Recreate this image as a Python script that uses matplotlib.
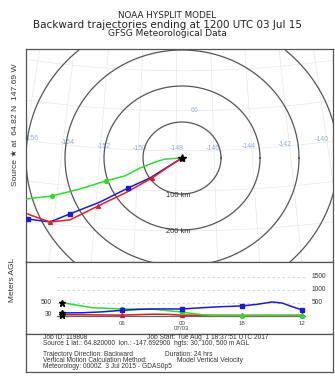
import numpy as np
import matplotlib
matplotlib.use("Agg")
import matplotlib.pyplot as plt

plt.rcParams['font.family'] = ['Liberation Sans', 'DejaVu Sans']

# ---------------- data ----------------
SRC_LAT, SRC_LON = 64.82, -147.69

# trajectories (lat, lon), points from source backwards
red_lat = [64.82, 64.59, 64.31, 63.91, 63.55, 63.15, 63.05, 63.12, 63.20, 63.27]
red_lon = [-147.69, -148.42, -149.23, -150.58, -151.89, -153.21, -154.17, -154.79, -155.45, -156.22]
red_mark = [2, 4, 6]

blue_lat = [64.82, 64.52, 64.31, 64.04, 63.65, 63.30, 63.05, 63.06, 63.03]
blue_lon = [-147.69, -148.68, -149.34, -150.44, -151.81, -153.24, -154.17, -155.27, -156.15]
blue_mark = [3, 5, 7]

green_lat = [64.82, 64.79, 64.71, 64.55, 64.34, 64.19, 63.94, 63.70, 63.55, 63.45]
green_lon = [-147.69, -148.58, -149.10, -149.87, -150.63, -151.58, -152.87, -154.24, -155.51, -156.54]
green_mark = [5, 7]

lon_labels = [-156, -154, -152, -150, -148, -146, -144, -142, -140]
lat_label = 66
ring_km = [100, 200, 300, 400]
ring_labels = ["100 km", "200 km"]

# height panel (hours back from 1200 UTC 03 Jul)
red_hr = [0, 3, 6, 9, 10.5, 12, 15, 18, 24]
red_h = [30, 25, 15, 50, 45, 15, 10, 5, 10]
blue_hr = [0, 2, 4, 6, 8, 10, 12, 14, 16, 18, 19.5, 21, 22, 24]
blue_h = [100, 105, 140, 200, 240, 255, 250, 300, 340, 370, 430, 520, 480, 210]
green_hr = [0, 1, 3, 6, 9, 12, 14, 15, 18, 24]
green_h = [500, 430, 300, 250, 250, 130, 30, 0, 0, 0]
mark_hr = [6, 12, 18, 24]
time_ticks = ["06", "00", "18", "12"]
start_heights = [500, 30]
level_lines = [500, 1000, 1500]

# ---------------- helpers ----------------
W, H = 335, 376
def rect(x0, y0, x1, y1):
    return [x0 / W, 1 - y1 / H, (x1 - x0) / W, (y1 - y0) / H]

def proj(lat, lon):
    lat = np.asarray(lat, float); lon = np.asarray(lon, float)
    r = (90 - lat) * 111.2
    t = np.radians(lon - SRC_LON)
    return r * np.sin(t), -r * np.cos(t)

def interp_h(hr, h, x):
    return np.interp(x, hr, h)

fig = plt.figure(figsize=(3.35, 3.76), dpi=100)
FR = '#555555'

# titles (wide font to mimic the stretched original)
TF = ['DejaVu Sans']
fig.text(0.5, 1 - 15 / H, "NOAA HYSPLIT MODEL", ha='center', va='center', fontsize=6.3, color='#222', family=TF)
fig.text(0.5, 1 - 25 / H, "Backward trajectories ending at 1200 UTC 03 Jul 15", ha='center', va='center', fontsize=7.5, color='#222', family=TF)
fig.text(0.5, 1 - 34 / H, "GFSG Meteorological Data", ha='center', va='center', fontsize=6.5, color='#222', family=TF)

# ---------------- map ----------------
ax = fig.add_axes(rect(26, 49, 333, 262))
sx0, sy0 = proj(SRC_LAT, SRC_LON)
sx, sy = 0.39, 0.36
ax.set_xlim(sx0 - 156 / sx, sx0 + 151 / sx)
ax.set_ylim(sy0 - 104 / sy, sy0 + 109 / sy)
ax.set_xticks([]); ax.set_yticks([])
for s in ax.spines.values():
    s.set_color(FR); s.set_linewidth(0.9)

gridc = '#e4e8ee'
for lon in range(-164, -130, 2):
    la = np.linspace(58, 72, 60)
    x, y = proj(la, np.full_like(la, lon))
    ax.plot(x, y, color=gridc, lw=0.5, zorder=1)
for lat in range(58, 72):
    lo = np.linspace(-170, -125, 200)
    x, y = proj(np.full_like(lo, lat), lo)
    ax.plot(x, y, color=gridc, lw=0.5, zorder=1)

labc = '#8aaedc'
for lon in lon_labels:
    x, y = proj(65, lon)
    ax.text(x * 0.96 + sx0 * 0.04, y + 5, str(lon), color=labc, fontsize=5.0, ha='center', va='center', zorder=2)
x, y = proj(lat_label, -147)
ax.text(x, y, str(lat_label), color=labc, fontsize=5.0, ha='center', va='center', zorder=2)

th = np.linspace(0, 2 * np.pi, 400)
for r in ring_km:
    ax.plot(sx0 + r * np.cos(th), sy0 + r * np.sin(th), color='#555555', lw=0.9, zorder=3)
for r, lab in zip(ring_km, ring_labels):
    ax.text(sx0 - 10, sy0 - r - 3, lab, fontsize=5.4, color='#333', ha='center', va='center', zorder=4)

for la, lo, mk, c, m in [(green_lat, green_lon, green_mark, '#30d830', 'o'),
                         (blue_lat, blue_lon, blue_mark, '#1a1ad8', 's'),
                         (red_lat, red_lon, red_mark, '#e02020', '^')]:
    x, y = proj(la, lo)
    ax.plot(x, y, color=c, lw=1.1, zorder=5)
    ax.plot(x[mk], y[mk], ls='none', marker=m, color=c, ms=2.8, zorder=6)
ax.plot([sx0], [sy0], marker='*', color='k', ms=6, zorder=7)

fig.text(15 / W, 1 - 125 / H, "Source \u2605 at  64.82 N  147.69 W", rotation=90,
         ha='center', va='center', fontsize=6.1, color='#333')

# ---------------- height panel ----------------
ah = fig.add_axes(rect(26, 262, 333, 334))
ah.set_xlim(-3.6, 27.1)
ah.set_ylim(-711, 2058)
ah.set_xticks([]); ah.set_yticks([])
for s in ah.spines.values():
    s.set_color(FR); s.set_linewidth(0.9)

for lv in level_lines:
    ah.plot([-0.5, 24.5], [lv, lv], ls=(0, (3, 3)), color='#c5d3de', lw=0.6, zorder=1)
    ah.text(25.0, lv, str(lv), fontsize=4.8, color='#333', ha='left', va='center')
ah.plot([-0.5, 24.3], [0, 0], color='#666666', lw=0.9, zorder=2)
for sh in start_heights:
    ah.text(-1.0, sh, str(sh), fontsize=4.8, color='#333', ha='right', va='center')

for hr, hh, c, m in [(red_hr, red_h, '#d02020', '^'),
                     (green_hr, green_h, '#30d830', 'o'),
                     (blue_hr, blue_h, '#1a1ad8', 's')]:
    ah.plot(hr, hh, color=c, lw=1.1, zorder=4)
    ah.plot(mark_hr, interp_h(hr, hh, mark_hr), ls='none', marker=m, color=c, ms=2.8, zorder=5)
for hr, hh in [(red_hr, red_h), (blue_hr, blue_h), (green_hr, green_h)]:
    ah.plot([0], [hh[0]], marker='*', color='k', ms=5, zorder=6)

for t, lab in zip(mark_hr, time_ticks):
    ah.text(t, -290, lab, fontsize=4.4, color='#444', ha='center', va='center')
ah.text(12, -510, "07/03", fontsize=4.4, color='#444', ha='center', va='center')

fig.text(13 / W, 1 - 280 / H, "Meters AGL", rotation=90, ha='center', va='center',
         fontsize=6.0, color='#333')

# ---------------- info box ----------------
at = fig.add_axes(rect(26, 334, 333, 372))
at.set_xlim(26, 333); at.set_ylim(372, 334)
at.set_xticks([]); at.set_yticks([])
for s in at.spines.values():
    s.set_color(FR); s.set_linewidth(0.9)
fs = 4.8
tc = '#333'
at.text(43, 337.5, "Job ID: 119808", fontsize=fs, color=tc, va='center')
at.text(147, 337.5, "Job Start: Tue Aug  1 18:37:51 UTC 2017", fontsize=fs, color=tc, va='center')
at.text(43, 343.5, "Source 1 lat.: 64.820000  lon.: -147.692900  hgts: 30, 100, 500 m AGL", fontsize=fs, color=tc, va='center')
at.text(43, 354.8, "Trajectory Direction: Backward", fontsize=fs, color=tc, va='center')
at.text(165, 354.8, "Duration: 24 hrs", fontsize=fs, color=tc, va='center')
at.text(43, 360.5, "Vertical Motion Calculation Method:", fontsize=fs, color=tc, va='center')
at.text(177, 360.5, "Model Vertical Velocity", fontsize=fs, color=tc, va='center')
at.text(43, 366.3, "Meteorology: 0000Z  3 Jul 2015 - GDAS0p5", fontsize=fs, color=tc, va='center')

fig.savefig("out.png", dpi=100)
